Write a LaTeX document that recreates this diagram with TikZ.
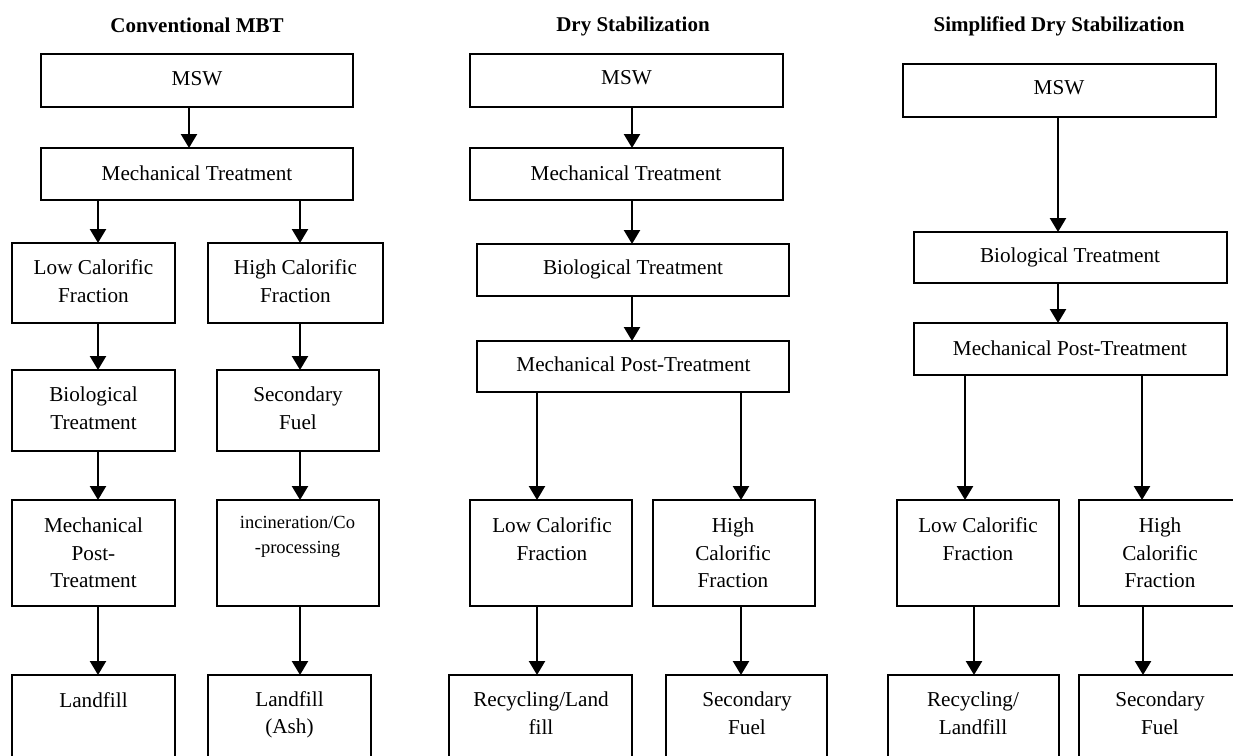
\documentclass[tikz,border=0pt]{standalone}
\usepackage{fontspec}
\setmainfont{Liberation Serif}
\usetikzlibrary{arrows.meta}
\tikzset{
  box/.style={draw, line width=1.3pt, rectangle, inner sep=0pt, outer sep=0pt},
  txt/.style={align=center, inner sep=0pt, font=\fontsize{21.2}{27.5}\selectfont},
  smalltxt/.style={align=center, inner sep=0pt, font=\fontsize{18.5}{25}\selectfont},
  ttl/.style={inner sep=0pt, font=\fontsize{21}{25}\selectfont\bfseries},
  arr/.style={line width=2.4pt, -{Triangle[width=16pt,length=14pt]}},
}
% \blk{name}{x1}{y1}{x2}{y2}: an empty framed block spanning the given corners
\newcommand\blk[5]{%
  \node[box, minimum width={(#4)-(#2)}, minimum height={(#5)-(#3)}]
    (#1) at ({((#2)+(#4))/2},{((#3)+(#5))/2}) {};}
% \flow{from}{to}{xshift}: vertical arrow from one block down to the next
\newcommand\flow[3]{%
  \draw[arr] ([xshift=#3]#1.south) -- ([xshift=#3]#1.south |- #2.north);}

\begin{document}
\begin{tikzpicture}[x=1pt, y=-1pt]
\clip (0,0) rectangle (1233,755);
\fill[white] (0,0) rectangle (1233,755);

% ---------- Conventional MBT ----------
\node[ttl] (title1) at (197,25) {Conventional MBT};
\blk{msw1}{41}{54}{353}{107}
\blk{mt1}{41}{148}{353}{200}
\blk{lc1}{12}{243}{175}{323}
\blk{hc1}{208}{243}{383}{323}
\blk{bt1}{12}{370}{175}{451}
\blk{sf1}{217}{370}{379}{451}
\blk{mp1}{12}{500}{175}{606}
\blk{ic1}{217}{500}{379}{606}
\blk{lf1}{12}{675}{175}{775}
\blk{la1}{208}{675}{371}{775}

\node[txt] (msw1t) at (197,79) {MSW};
\node[txt] (mt1t) at (197,173) {Mechanical Treatment};
\node[txt] (lc1t) at (93.5,281) {Low Calorific\\Fraction};
\node[txt] (hc1t) at (295.5,281) {High Calorific\\Fraction};
\node[txt] (bt1t) at (93.5,408) {Biological\\Treatment};
\node[txt] (sf1t) at (298,408) {Secondary\\Fuel};
\node[txt] (mp1t) at (93.5,553) {Mechanical\\Post-\\Treatment};
\node[smalltxt] (ic1t) at (297.5,537) {incineration/Co\\-processing};
\node[txt] (lf1t) at (93.5,700) {Landfill};
\node[txt] (la1t) at (289.5,715) {Landfill\\(Ash)};

\flow{msw1}{mt1}{-8}
\flow{mt1}{lc1}{-99}
\flow{mt1}{hc1}{103}
\flow{lc1}{bt1}{4.5}
\flow{hc1}{sf1}{4.5}
\flow{bt1}{mp1}{4.5}
\flow{sf1}{ic1}{2}
\flow{mp1}{lf1}{4.5}
\flow{ic1}{la1}{2}

% ---------- Dry Stabilization ----------
\node[ttl] (title2) at (633,26) {Dry Stabilization};
\blk{msw2}{470}{54}{783}{107}
\blk{mt2}{470}{148}{783}{200}
\blk{bt2}{477}{244}{789}{296}
\blk{mp2}{477}{341}{789}{392}
\blk{lc2}{470}{500}{632}{606}
\blk{hc2}{653}{500}{815}{606}
\blk{rl2}{449}{675}{632}{775}
\blk{sf2}{666}{675}{827}{775}

\node[txt] (msw2t) at (626.5,78) {MSW};
\node[txt] (mt2t) at (626,173) {Mechanical Treatment};
\node[txt] (bt2t) at (633,269) {Biological Treatment};
\node[txt] (mp2t) at (633.5,364) {Mechanical Post-Treatment};
\node[txt] (lc2t) at (552,539) {Low Calorific\\Fraction};
\node[txt] (hc2t) at (733,553) {High\\Calorific\\Fraction};
\node[txt] (rl2t) at (541,713) {Recycling/Land\\fill};
\node[txt] (sf2t) at (747,713) {Secondary\\Fuel};

\flow{msw2}{mt2}{5.5}
\flow{mt2}{bt2}{5.5}
\flow{bt2}{mp2}{-1}
\flow{mp2}{lc2}{-96}
\flow{mp2}{hc2}{108}
\flow{lc2}{rl2}{-14}
\flow{hc2}{sf2}{7}

% ---------- Simplified Dry Stabilization ----------
\node[ttl] (title3) at (1059,26) {Simplified Dry Stabilization};
\blk{msw3}{903}{64}{1216}{117}
\blk{bt3}{914}{232}{1227}{283}
\blk{mp3}{914}{323}{1227}{375}
\blk{lc3}{897}{500}{1059}{606}
\blk{hc3}{1079}{500}{1241}{606}
\blk{rl3}{888}{675}{1059}{775}
\blk{sf3}{1079}{675}{1241}{775}

\node[txt] (msw3t) at (1059,88) {MSW};
\node[txt] (bt3t) at (1070,257) {Biological Treatment};
\node[txt] (mp3t) at (1070,348) {Mechanical Post-Treatment};
\node[txt] (lc3t) at (978,539) {Low Calorific\\Fraction};
\node[txt] (hc3t) at (1160,553) {High\\Calorific\\Fraction};
\node[txt] (rl3t) at (973,713) {Recycling/\\Landfill};
\node[txt] (sf3t) at (1160,713) {Secondary\\Fuel};

\flow{msw3}{bt3}{-1.5}
\flow{bt3}{mp3}{-12.5}
\flow{mp3}{lc3}{-105.5}
\flow{mp3}{hc3}{71.5}
\flow{lc3}{rl3}{-4}
\flow{hc3}{sf3}{-17}
\end{tikzpicture}
\end{document}
